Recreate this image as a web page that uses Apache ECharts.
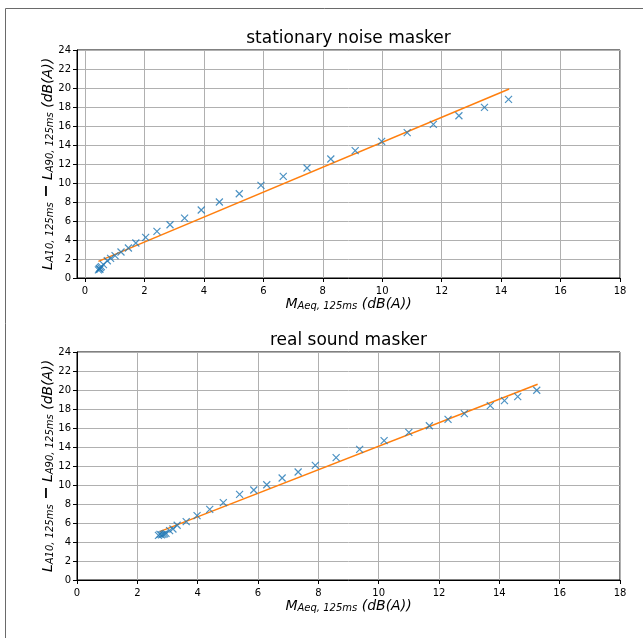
<!DOCTYPE html>
<html><head><meta charset="utf-8">
<script src="https://cdn.jsdelivr.net/npm/echarts@6/dist/echarts.min.js"></script>
<style>html,body{margin:0;padding:0;background:#fff}#c{width:643px;height:638px}</style>
</head><body><div id="c"></div>
<script>
const titles = ['stationary noise masker', 'real sound masker'];
const stationaryX = [0.45,0.48,0.50,0.52,0.55,0.62,0.75,0.86,1.01,1.21,1.46,1.71,2.04,2.42,2.86,3.35,3.91,4.52,5.19,5.92,6.67,7.47,8.27,9.09,9.98,10.84,11.72,12.58,13.44,14.25];
const stationaryY = [0.85,1.00,0.90,1.10,1.20,1.40,1.82,2.07,2.35,2.74,3.16,3.68,4.27,4.91,5.61,6.31,7.16,8.00,8.87,9.75,10.70,11.58,12.53,13.40,14.38,15.30,16.17,17.08,17.96,18.80];
const stationaryFitX = [0.45, 14.27];
const stationaryFitY = [1.75, 19.90];
const realX = [2.70,2.75,2.80,2.85,2.90,2.95,3.07,3.18,3.32,3.62,3.98,4.40,4.85,5.39,5.86,6.29,6.80,7.33,7.90,8.59,9.37,10.18,11.00,11.68,12.30,12.84,13.70,14.17,14.61,15.24];
const realY = [4.70,4.80,4.75,4.80,4.85,4.90,5.19,5.37,5.76,6.14,6.77,7.44,8.14,9.02,9.47,10.03,10.74,11.37,12.07,12.88,13.75,14.67,15.54,16.24,16.91,17.51,18.35,18.88,19.30,19.97];
const realFitX = [2.74, 15.27];
const realFitY = [5.09, 20.60];
const xTickValues = [0, 2, 4, 6, 8, 10, 12, 14, 16, 18];
const xRanges = [[-0.27, 18], [0, 18]];
const yTicks = {min: 0, max: 24, interval: 2};

const zip = (a, b) => a.map((v, i) => [v, b[i]]);
const font = 'DejaVu Sans';
const xName = '{i|M}{s|Aeq, 125ms}{n| }{i|(dB(A))}';
const yName = '{i|L}{s|A10, 125ms}{n| }{m|−}{n| }{i|L}{s|A90, 125ms}{n| }{i|(dB(A))}';
const rich = {
  i: {fontFamily: font, fontStyle: 'italic', fontSize: 14, color: '#000', lineHeight: 16, verticalAlign: 'bottom'},
  s: {fontFamily: font, fontStyle: 'italic', fontSize: 10, color: '#000', lineHeight: 8, verticalAlign: 'bottom'},
  n: {fontFamily: font, fontSize: 14, color: '#000', lineHeight: 16, verticalAlign: 'bottom'},
  m: {fontFamily: font, fontSize: 16, fontWeight: 'bold', color: '#000', lineHeight: 16, verticalAlign: 'bottom'}
};
const grids = [
  {left: 77, right: 23, top: 50, height: 228, show: true, borderColor: '#000', borderWidth: 1, containLabel: false},
  {left: 77, right: 23, top: 352, height: 228, show: true, borderColor: '#000', borderWidth: 1, containLabel: false}
];
const gridLine = {show: true, lineStyle: {color: '#b0b0b0', width: 1}};
const mkX = (gi) => ({type: 'value', gridIndex: gi, min: xRanges[gi][0], max: xRanges[gi][1],
  name: xName, nameLocation: 'middle', nameGap: 17, nameMoveOverlap: false,
  nameTextStyle: {rich: rich},
  axisLine: {show: true, onZero: false, lineStyle: {color: '#000'}},
  axisTick: {show: true, inside: false, length: 4, lineStyle: {color: '#000'}, customValues: xTickValues},
  axisLabel: {fontFamily: font, fontSize: 10, color: '#000', margin: 8, customValues: xTickValues},
  splitLine: gridLine});
const mkY = (gi) => Object.assign({type: 'value', gridIndex: gi, name: yName, nameLocation: 'middle', nameGap: 22,
  nameMoveOverlap: false, nameRotate: 90, nameTextStyle: {rich: rich},
  axisLine: {show: true, onZero: false, lineStyle: {color: '#000'}},
  axisTick: {show: true, inside: false, length: 4, lineStyle: {color: '#000'}},
  axisLabel: {fontFamily: font, fontSize: 10, color: '#000', margin: 6},
  splitLine: gridLine}, yTicks);
const xSym = 'path://M0,0L10,10M10,0L0,10';
const scatter = (gi, x, y) => ({type: 'scatter', xAxisIndex: gi, yAxisIndex: gi, data: zip(x, y), symbol: xSym, symbolSize: 7,
  itemStyle: {color: 'transparent', borderColor: '#1f77b4', borderWidth: 1.2}, silent: true, z: 3});
const fit = (gi, x, y) => ({type: 'line', xAxisIndex: gi, yAxisIndex: gi, data: zip(x, y), symbol: 'none',
  lineStyle: {color: '#ff7f0e', width: 1.5}, silent: true, z: 2});
const titleText = (t, x, y) => ({type: 'text', x: x, y: y, silent: true,
  style: {text: t, fontFamily: font, fontSize: 17, fill: '#000', align: 'center', verticalAlign: 'middle'}});

const chart = echarts.init(document.getElementById('c'), null, {renderer: 'canvas'});
chart.setOption({
  animation: false,
  backgroundColor: '#fff',
  graphic: [
    {type: 'rect', shape: {x: 5.5, y: 8.5, width: 700, height: 700}, style: {fill: 'none', stroke: '#6a6a6a', lineWidth: 1}, silent: true},
    titleText(titles[0], 348.5, 39),
    titleText(titles[1], 348.5, 341)
  ],
  grid: grids,
  xAxis: [mkX(0), mkX(1)],
  yAxis: [mkY(0), mkY(1)],
  series: [
    scatter(0, stationaryX, stationaryY), fit(0, stationaryFitX, stationaryFitY),
    scatter(1, realX, realY), fit(1, realFitX, realFitY)
  ]
});
</script></body></html>
